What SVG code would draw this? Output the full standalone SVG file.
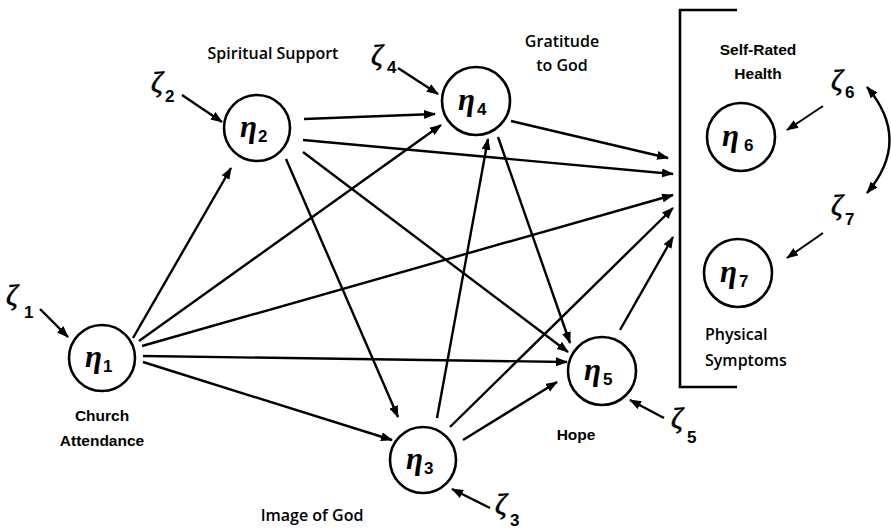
<svg xmlns="http://www.w3.org/2000/svg" width="891" height="532" viewBox="0 0 891 532">
<style>
.node{fill:#fff;stroke:#000;stroke-width:2.6}
.eta{font-family:"Liberation Serif","DejaVu Serif",serif;font-style:italic;font-weight:bold;font-size:31px;fill:#000}
.sub{font-family:"Liberation Sans",Arial,sans-serif;font-weight:bold;font-size:17px;fill:#000}
.zeta{font-family:"Liberation Serif","DejaVu Serif",serif;font-style:italic;font-size:29px;fill:#000;stroke:#000;stroke-width:0.6}
.lblA{font-family:"Liberation Sans",Arial,sans-serif;font-weight:bold;font-size:15.5px;fill:#000}
.lblC{font-family:"Open Sans","Noto Sans",sans-serif;font-weight:600;font-size:16px;fill:#000}
.edge{stroke:#000;stroke-width:2.4;fill:none;marker-end:url(#ah)}
.thin{stroke:#000;stroke-width:2;fill:none;marker-end:url(#ah)}
.br{stroke:#000;stroke-width:2.6;fill:none}
</style>
<defs>
<marker id="ah" markerUnits="userSpaceOnUse" markerWidth="12" markerHeight="9" refX="11" refY="4.5" orient="auto-start-reverse">
<path d="M0,0 L12,4.5 L0,9 z" fill="#000"/>
</marker>
</defs>
<rect width="891" height="532" fill="#fff"/>

<g id="connectors">
<line class="edge" x1="133" y1="338" x2="231" y2="168"/>
<line class="edge" x1="139" y1="341" x2="441" y2="125"/>
<line class="edge" x1="142" y1="346" x2="673" y2="195"/>
<line class="edge" x1="143" y1="356" x2="567" y2="362"/>
<line class="edge" x1="143" y1="362" x2="392" y2="440"/>
<line class="edge" x1="304" y1="119" x2="435" y2="114"/>
<line class="edge" x1="303" y1="140" x2="673" y2="174"/>
<line class="edge" x1="303" y1="152" x2="568" y2="352"/>
<line class="edge" x1="286" y1="159" x2="398" y2="417"/>
<line class="edge" x1="511" y1="121" x2="668" y2="158"/>
<line class="edge" x1="498" y1="137" x2="570" y2="343"/>
<line class="edge" x1="437" y1="418" x2="488" y2="139"/>
<line class="edge" x1="450" y1="427" x2="673" y2="208"/>
<line class="edge" x1="463" y1="440" x2="557" y2="382"/>
<line class="edge" x1="620" y1="330" x2="673" y2="237"/>
<line class="edge" x1="40" y1="309" x2="68" y2="337"/>
<line class="edge" x1="182" y1="95" x2="222" y2="122"/>
<line class="edge" x1="398" y1="68" x2="438" y2="94"/>
<line class="thin" x1="823" y1="106" x2="787" y2="130"/>
<line class="thin" x1="823" y1="233" x2="787" y2="258"/>
<line class="edge" x1="664" y1="418" x2="630" y2="400"/>
<line class="edge" x1="490" y1="508" x2="452" y2="489"/>
<path class="edge" d="M867,87 Q912,140 867,193" style="marker-start:url(#ah)"/>
</g>

<g id="bracket">
<polyline class="br" points="737,10 680,10 680,387 737,387"/>
</g>

<g id="eta1">
<circle class="node" cx="102" cy="358" r="33"/>
<text class="eta" x="85" y="367">η</text><text class="sub" x="103" y="372">1</text>
<text class="lblA" x="102" y="421" text-anchor="middle">Church</text>
<text class="lblA" x="102" y="446" text-anchor="middle">Attendance</text>
</g>
<g id="eta2">
<circle class="node" cx="257" cy="128" r="33"/>
<text class="eta" x="240" y="137">η</text><text class="sub" x="258" y="142">2</text>
<text class="lblC" x="273" y="59" text-anchor="middle">Spiritual Support</text>
</g>
<g id="eta4">
<circle class="node" cx="476" cy="101" r="34"/>
<text class="eta" x="458" y="110">η</text><text class="sub" x="477" y="115">4</text>
<text class="lblC" x="562" y="47" text-anchor="middle">Gratitude</text>
<text class="lblC" x="562" y="71" text-anchor="middle">to God</text>
</g>
<g id="eta3">
<circle class="node" cx="423" cy="460" r="33"/>
<text class="eta" x="406" y="469">η</text><text class="sub" x="424" y="474">3</text>
<text class="lblC" x="312" y="521" text-anchor="middle">Image of God</text>
</g>
<g id="eta5">
<circle class="node" cx="602" cy="371" r="34"/>
<text class="eta" x="584" y="380">η</text><text class="sub" x="603" y="385">5</text>
<text class="lblA" x="576" y="440" text-anchor="middle">Hope</text>
</g>
<g id="eta6">
<circle class="node" cx="741" cy="137" r="34"/>
<text class="eta" x="722" y="146">η</text><text class="sub" x="744" y="151">6</text>
<text class="lblA" x="758" y="55" text-anchor="middle">Self-Rated</text>
<text class="lblA" x="758" y="79" text-anchor="middle">Health</text>
</g>
<g id="eta7">
<circle class="node" cx="738" cy="273" r="34"/>
<text class="eta" x="720" y="282">η</text><text class="sub" x="739" y="287">7</text>
<text class="lblC" x="705" y="340">Physical</text>
<text class="lblC" x="705" y="366">Symptoms</text>
</g>

<g id="zetas">
<text class="zeta" x="6" y="305">ζ</text><text class="sub" x="24" y="318">1</text>
<text class="zeta" x="151" y="92">ζ</text><text class="sub" x="165" y="102">2</text>
<text class="zeta" x="371" y="65">ζ</text><text class="sub" x="387" y="73">4</text>
<text class="zeta" x="831" y="90">ζ</text><text class="sub" x="845" y="98">6</text>
<text class="zeta" x="831" y="215">ζ</text><text class="sub" x="845" y="225">7</text>
<text class="zeta" x="671" y="428">ζ</text><text class="sub" x="687" y="443">5</text>
<text class="zeta" x="495" y="514">ζ</text><text class="sub" x="510" y="526">3</text>
</g>
</svg>
